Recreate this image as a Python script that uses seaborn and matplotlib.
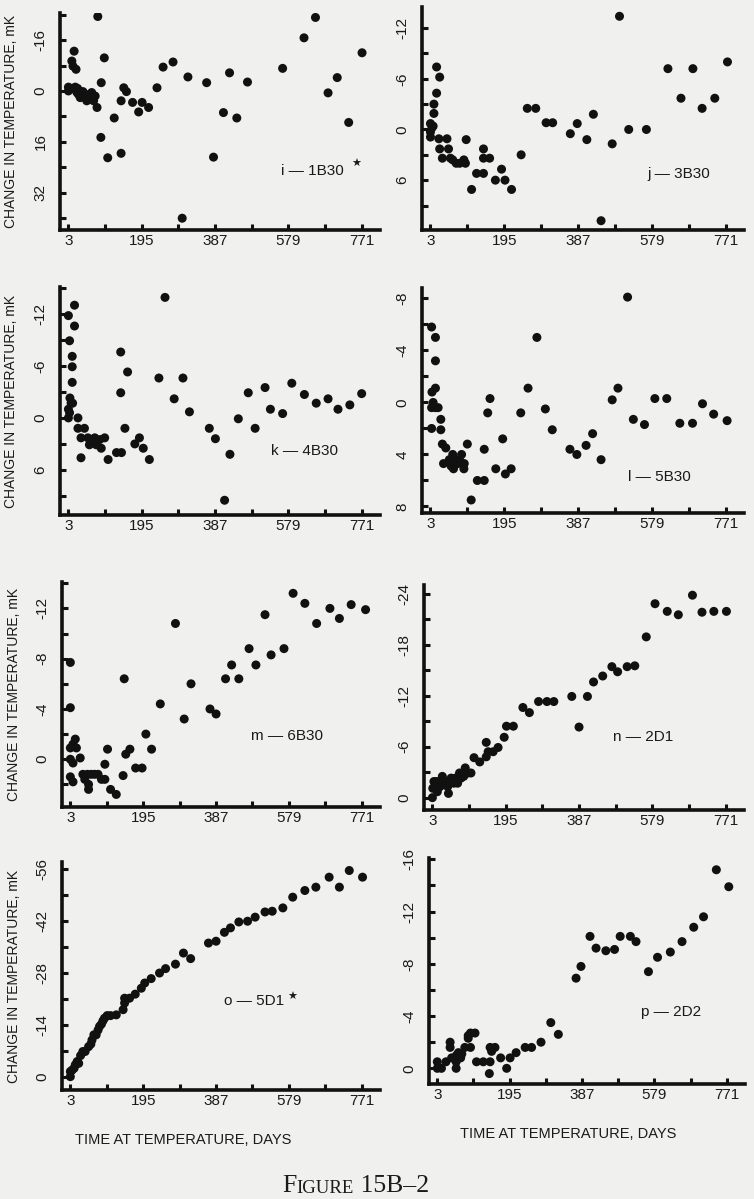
import matplotlib
matplotlib.use("Agg")
import matplotlib.pyplot as plt
import pandas as pd
import seaborn as sns

# ---- data (days at temperature, change in temperature mK)
i_days = [3, 3, 12, 21, 27, 29, 34, 41, 47, 51, 58, 64, 69, 73, 25, 38, 55, 62,
          12, 18, 15, 23, 80, 89, 97, 88, 78, 106, 123, 141, 148, 155, 141, 171,
          187, 196, 213, 235, 251, 277, 301, 316, 365, 383, 409, 425, 444, 472,
          564, 620, 650, 683, 707, 737, 772]
i_dt = [-1.2, 0, -0.8, -1.2, -0.8, 1, 2.1, 0.2, 1, 3.1, 2.1, 0.5, 3.1, 1.6, 0.4, 1.5, 2.5, 1.2,
        -9.4, -12.5, -7.8, -6.8, -23.4, -2.6, -10.4, 14.6, 5.2, 21, 8.5, 3.1, -1, 0.2, 19.6, 3.6,
        6.6, 3.6, 5.2, -1, -7.5, -9.1, 40, -4.4, -2.6, 20.8, 6.8, -5.7, 8.5, -2.8,
        -7.1, -16.7, -23.1, 0.6, -4.2, 9.9, -12]

j_days = [3, 3, 3, 7, 10, 12, 12, 19, 19, 27, 25, 27, 34, 46, 50, 55, 61, 70, 79, 90,
          94, 96, 110, 123, 141, 141, 141, 157, 172, 188, 197, 214, 239, 255, 277, 304,
          321, 367, 385, 410, 427, 447, 476, 495, 519, 565, 621, 655, 686, 710, 743, 776]
j_dt = [-0.7, 0.3, 0.9, -0.2, -0.4, -1.9, -3, -4.3, -7.4, -6.2, 1.1, 2.3, 3.4, 1.1, 2.3, 3.4, 3.6, 4, 4, 3.6,
        4, 1.2, 7.1, 5.2, 5.2, 2.3, 3.4, 3.4, 6, 4.7, 6, 7.1, 3, -2.5, -2.5, -0.8,
        -0.8, 0.5, -0.7, 1.2, -1.8, 10.8, 1.7, -13.4, 0, 0, -7.2, -3.7, -7.2, -2.5, -3.7, -8]

k_days = [3, 6, 3, 3, 6, 7, 10, 13, 13, 13, 19, 19, 14, 28, 28, 36, 36, 45, 54, 58,
          63, 72, 76, 85, 89, 98, 107, 129, 142, 140, 140, 151, 158, 177, 189, 199, 215,
          240, 256, 280, 303, 320, 372, 388, 412, 426, 448, 474, 492, 518, 532, 564, 588,
          621, 652, 683, 709, 740, 771]
k_dt = [-11.8, -8.9, -1, 0, -0.6, -2.3, -1.7, -4.1, -5.9, -7.1, -10.6, -13, -1.7, 0, 1.2, 2.3, 4.6, 1.2, 2.3, 3.1,
        2.5, 2.3, 3.1, 2.5, 3.5, 2.3, 4.8, 4, 4, -7.6, -2.9, 1.2, -5.3, 3, 2.3, 3.5, 4.8,
        -4.6, -13.9, -2.2, -4.6, -0.7, 1.2, 2.4, 9.5, 4.2, 0.1, -2.9, 1.2, -3.5, -1, -0.5, -4,
        -2.7, -1.7, -2.2, -1, -1.5, -2.8]

l_days = [6, 7, 6, 6, 10, 16, 16, 16, 16, 23, 30, 30, 34, 43, 37, 52, 57, 61, 63, 69,
          74, 80, 84, 90, 91, 99, 109, 125, 143, 143, 152, 158, 173, 191, 198, 213, 238,
          257, 280, 302, 320, 366, 384, 408, 425, 447, 476, 491, 516, 531, 560, 587, 618,
          652, 685, 711, 740, 775]
l_dt = [-5.8, -0.8, 0.4, 2, 0, -5, -3.2, -1.1, 0.4, 0.4, 1.3, 2.1, 3.2, 3.5, 4.7, 4.4, 4.9, 4, 5.1, 4.4,
        4.7, 4.5, 4, 5.1, 4.7, 3.2, 7.5, 6, 6, 3.6, 0.8, -0.3, 5.1, 2.8, 5.5, 5.1, 0.8,
        -1.1, -5, 0.5, 2.1, 3.6, 4, 3.3, 2.4, 4.4, -0.2, -1.1, -8.1, 1.3, 1.7, -0.3, -0.3,
        1.6, 1.6, 0.1, 0.9, 1.4]

m_days = [3, 3, 3, 3, 3, 10, 10, 16, 19, 10, 29, 36, 41, 48, 51, 51, 58, 67, 76, 85,
          94, 94, 101, 109, 124, 142, 145, 149, 160, 175, 192, 202, 217, 240, 280, 303,
          321, 371, 387, 412, 428, 447, 474, 492, 516, 532, 566, 590, 621, 652, 687, 712,
          743, 781]
m_dt = [-7.7, -4.1, -0.9, 0, 1.4, 1.8, -1.2, -1.6, -0.9, 0.3, -0.1, 1.2, 1.6, 1.2, 2, 2.4, 1.2, 1.2, 1.2, 1.6,
        1.6, 0.4, -0.8, 2.4, 2.8, 1.3, -6.4, -0.4, -0.8, 0.7, 0.7, -2, -0.8, -4.4, -10.8, -3.2,
        -6, -4, -3.6, -6.4, -7.5, -6.4, -8.8, -7.5, -11.5, -8.3, -8.8, -13.2, -12.4, -10.8, -12, -11.2,
        -12.3, -11.9]

n_days = [3, 4, 7, 14, 16, 23, 29, 34, 38, 43, 45, 52, 59, 63, 69, 74, 78, 85, 89, 96,
          104, 112, 127, 144, 144, 149, 162, 175, 191, 197, 215, 240, 257, 281, 303, 321,
          368, 387, 409, 425, 449, 473, 488, 513, 533, 563, 586, 618, 647, 684, 709, 740, 773]
n_dt = [0, -1.1, -1.9, -1.9, -0.7, -1.3, -2.5, -1.7, -1.9, -1.3, -0.5, -2.3, -1.7, -2.3, -1.7, -2.9, -2.3, -2.5, -3.5, -2.9,
        -2.9, -4.7, -4.2, -6.5, -4.8, -5.4, -5.4, -5.9, -7.1, -8.4, -8.4, -10.6, -10, -11.3, -11.3, -11.3,
        -11.9, -8.3, -11.9, -13.6, -14.3, -15.4, -14.8, -15.4, -15.5, -18.9, -22.8, -21.9, -21.5, -23.8, -21.8, -21.9, -21.9]

o_days = [3, 3, 8, 13, 16, 21, 25, 30, 36, 42, 51, 57, 60, 65, 71, 76, 80, 85, 89, 93,
          100, 109, 124, 142, 146, 146, 159, 174, 190, 199, 216, 238, 254, 280, 301, 320,
          367, 387, 409, 425, 447, 470, 490, 516, 535, 563, 589, 621, 650, 685, 712, 738, 773]
o_dt = [0, -1.4, -1.8, -2.3, -3.2, -4.1, -3.6, -5.7, -6.8, -6.8, -8.1, -8.8, -9.9, -11.3, -11.3, -12.6, -13.6, -14.2, -15.1, -15.8,
        -16.5, -16.5, -16.7, -18.1, -19.9, -21.2, -21.2, -22.3, -23.9, -25.3, -26.5, -28, -29.2, -30.4, -33.4, -31.9,
        -36.1, -36.6, -39, -40.2, -41.8, -42, -43.1, -44.5, -44.7, -45.6, -48.5, -50.3, -51.2, -53.9, -51.2, -55.7, -53.9]

p_days = [3, 3, 14, 26, 37, 37, 41, 53, 53, 54, 59, 65, 68, 76, 85, 85, 91, 91, 103, 107,
          125, 143, 141, 143, 147, 156, 171, 187, 196, 212, 236, 253, 278, 304, 324, 371,
          384, 408, 424, 450, 473, 488, 515, 530, 563, 587, 621, 652, 683, 709, 743, 776]
p_dt = [0, -0.5, 0, -0.5, -2, -1.6, -0.8, 0, -0.5, -1, -1.2, -0.8, -1.1, -1.6, -2.5, -2.3, -1.6, -2.7, -2.7, -0.5,
        -0.5, -0.5, 0.4, -1.6, -1.3, -1.6, -0.8, 0, -0.8, -1.2, -1.6, -1.6, -2, -3.5, -2.6, -6.9,
        -7.8, -10.1, -9.2, -9, -9.1, -10.1, -10.1, -9.7, -7.4, -8.5, -8.9, -9.7, -10.8, -11.6, -15.2, -13.9]

panel_names = ["i — 1B30", "j — 3B30", "k — 4B30", "l — 5B30",
               "m — 6B30", "n — 2D1", "o — 5D1", "p — 2D2"]
x_ticks = [3, 99, 195, 291, 387, 483, 579, 675, 771]
x_labels = ["3", "", "195", "", "387", "", "579", "", "771"]

# ---- layout / style
W, H = 754, 1199
sns.set_style("ticks")
plt.rcParams["font.family"] = ["Liberation Sans Narrow", "Liberation Sans", "DejaVu Sans"]
plt.rcParams["axes.edgecolor"] = "#111111"
BG = "#f0f0ef"
INK = "#1a1a1a"


def rect(l, r, t, b):
    return [l / W, 1 - b / H, (r - l) / W, (b - t) / H]


panels = [
    # data, rect(px), ylim, yticks, labelled yticks, label pos, star pos
    (i_days, i_dt, rect(60, 380, 13, 230), (43.7, -24.5), list(range(-24, 41, 8)), [-16, 0, 16, 32], (0.69, 0.27), (0.91, 0.305)),
    (j_days, j_dt, rect(422, 744, 7, 230), (11.9, -14.5), list(range(-12, 10, 3)), [-12, -6, 0, 6], (0.70, 0.25), None),
    (k_days, k_dt, rect(60, 380, 287, 515), (11.2, -15.1), list(range(-15, 10, 3)), [-12, -6, 0, 6], (0.66, 0.28), None),
    (l_days, l_dt, rect(422, 744, 288, 513), (8.5, -8.8), list(range(-8, 9, 2)), [-8, -4, 0, 4, 8], (0.64, 0.16), None),
    (m_days, m_dt, rect(62, 380, 582, 807), (3.8, -14.1), list(range(-14, 3, 2)), [-12, -8, -4, 0], (0.595, 0.315), None),
    (n_days, n_dt, rect(424, 744, 585, 810), (1.45, -25.0), list(range(-24, 1, 3)), [-24, -18, -12, -6, 0], (0.59, 0.326), None),
    (o_days, o_dt, rect(62, 380, 862, 1090), (3.6, -58.0), list(range(-56, 1, 7)), [-56, -42, -28, -14, 0], (0.51, 0.39), (0.71, 0.41)),
    (p_days, p_dt, rect(429, 745, 858, 1084), (1.2, -16.1), list(range(-16, 1, 2)), [-16, -12, -8, -4, 0], (0.67, 0.32), None),
]

fig = plt.figure(figsize=(W / 100, H / 100), dpi=100, facecolor=BG)

for idx, (days, dt, r, ylim, yt, ylab, lpos, spos) in enumerate(panels):
    ax = fig.add_axes(r)
    ax.set_facecolor(BG)
    df = pd.DataFrame({"days": days, "dT": dt})
    sns.scatterplot(data=df, x="days", y="dT", ax=ax, s=42, color="#111111",
                    edgecolor="none", linewidth=0, legend=False)
    ax.set_xlim(-19, 819)
    ax.set_ylim(*ylim)
    ax.set_xticks(x_ticks)
    ax.set_xticklabels(x_labels)
    ax.set_yticks(yt)
    ax.set_yticklabels([str(v) if v in ylab else "" for v in yt])
    for s in ["top", "right"]:
        ax.spines[s].set_visible(False)
    for s in ["left", "bottom"]:
        ax.spines[s].set_linewidth(2.6)
    ax.tick_params(direction="in", length=4, width=2.2, color="#111111",
                   labelsize=11, labelcolor=INK)
    ax.tick_params(axis="x", pad=3)
    ax.tick_params(axis="y", pad=9, labelrotation=90)
    for t in ax.get_yticklabels():
        t.set_va("center")
    ax.text(lpos[0], lpos[1], panel_names[idx], transform=ax.transAxes,
            fontsize=11, color=INK, va="center", ha="left")
    if spos is not None:
        ax.text(spos[0], spos[1], "\u2605", transform=ax.transAxes,
                fontsize=8, color=INK, va="center", ha="left", family="DejaVu Sans")
    if idx % 2 == 0:
        ax.set_ylabel("CHANGE IN TEMPERATURE, mK", fontsize=10, color=INK)
        ax.yaxis.set_label_coords(-0.13, 0.5)
    else:
        ax.set_ylabel("")
    if idx >= 6:
        ax.set_xlabel("TIME AT TEMPERATURE, DAYS", fontsize=10.5, color=INK)
        ax.xaxis.set_label_coords(0.38 if idx == 6 else 0.44, -0.19)
    else:
        ax.set_xlabel("")

# caption in small caps
cap = fig.add_axes([0, 0, 1, 1])
cap.axis("off")
serif = ["Liberation Serif", "DejaVu Serif"]
t1 = cap.text(282 / W, 1 - 1192 / H, "F", fontsize=18.5, family=serif, color=INK,
              transform=cap.transAxes, va="baseline", ha="left")
t2 = cap.annotate("IGURE", xy=(1, 0), xycoords=t1, fontsize=13.5, family=serif,
                  color=INK, va="bottom", ha="left")
cap.annotate(" 15B\u20132", xy=(1, 0), xycoords=t2, fontsize=18.5, family=serif,
             color=INK, va="bottom", ha="left")

fig.savefig("out.png", dpi=100, facecolor=BG)
